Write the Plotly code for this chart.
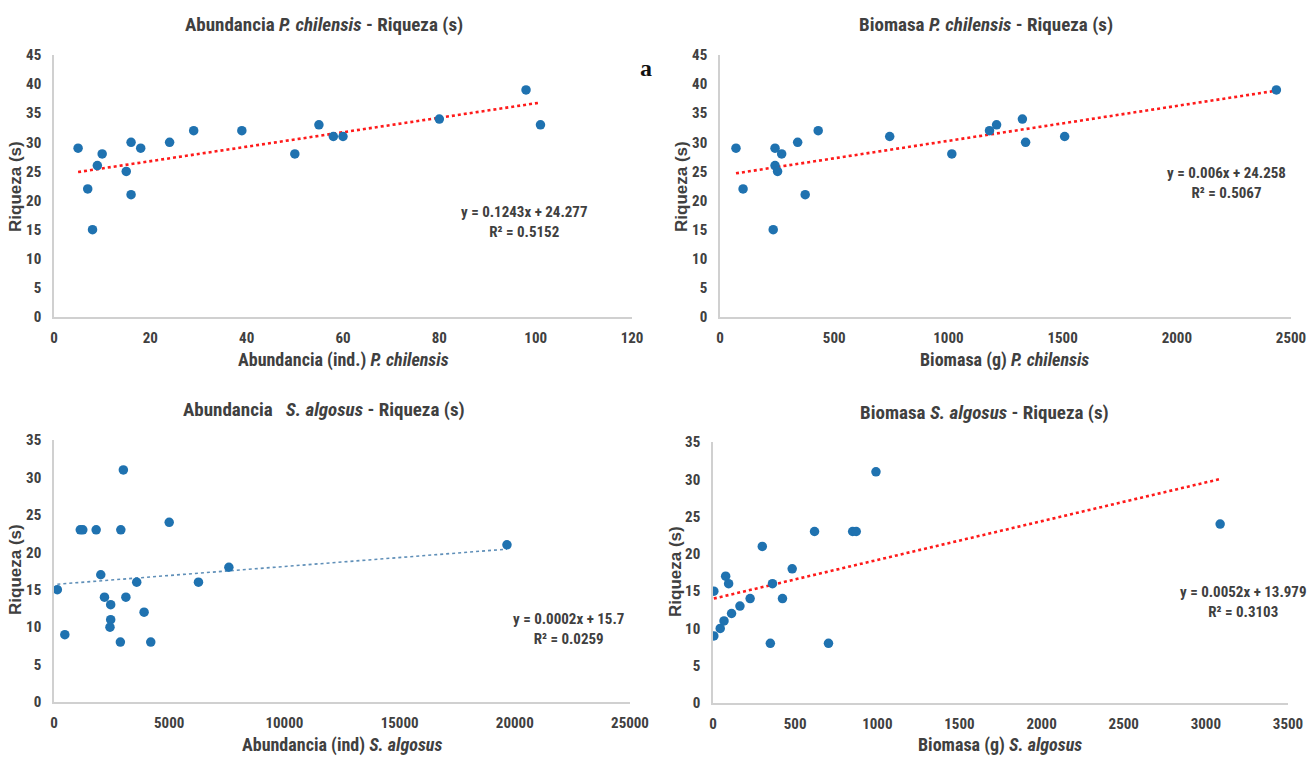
import plotly.graph_objects as go

W, H = 1309, 758

# ---- Data ----
p1_abund = [5, 7, 8, 9, 10, 15, 16, 16, 18, 24, 29, 39, 50, 55, 58, 60, 80, 98, 101]
p1_riq = [29, 22, 15, 26, 28, 25, 30, 21, 29, 30, 32, 32, 28, 33, 31, 31, 34, 39, 33]

p2_biom = [70, 101, 233, 241, 241, 252, 270, 340, 373, 430, 743, 1015, 1180, 1211, 1324, 1338, 1509, 2436]
p2_riq = [29, 22, 15, 29, 26, 25, 28, 30, 21, 32, 31, 28, 32, 33, 34, 30, 31, 39]

s_abund = [145, 470, 1140, 1250, 1830, 2030, 2190, 2460, 2460, 2430, 2900, 2880, 3010, 3120, 3590, 3910, 4200, 5000, 6270, 7590, 19660]
s_abund_riq = [15, 9, 23, 23, 23, 17, 14, 13, 11, 10, 23, 8, 31, 14, 16, 12, 8, 24, 16, 18, 21]

s_biom = [5, 5, 44, 67, 77, 95, 113, 164, 226, 300, 349, 362, 423, 482, 618, 703, 850, 872, 992, 3087]
s_biom_riq = [15, 9, 10, 11, 17, 16, 12, 13, 14, 21, 8, 16, 14, 18, 23, 8, 23, 23, 31, 24]

# trendline parameters (slope, intercept)
trend = {
    "p1": (0.1243, 24.277),
    "p2": (0.006, 24.258),
    "p3": (0.00024, 15.7),
    "p4": (0.0052, 13.979),
}
eq_text = {
    "p1": ("y = 0.1243x + 24.277", "R² = 0.5152"),
    "p2": ("y = 0.006x + 24.258", "R² = 0.5067"),
    "p3": ("y = 0.0002x + 15.7", "R² = 0.0259"),
    "p4": ("y = 0.0052x + 13.979", "R² = 0.3103"),
}
titles = {
    "p1": "Abundancia <i>P. chilensis</i> - Riqueza (s)",
    "p2": "Biomasa <i>P. chilensis</i> - Riqueza (s)",
    "p3": "Abundancia   <i>S. algosus</i> - Riqueza (s)",
    "p4": "Biomasa <i>S. algosus</i> - Riqueza (s)",
}
xtitles = {
    "p1": "Abundancia (ind.) <i>P. chilensis</i>",
    "p2": "Biomasa (g) <i>P. chilensis</i>",
    "p3": "Abundancia (ind) <i>S. algosus</i>",
    "p4": "Biomasa (g) <i>S. algosus</i>",
}
x_ranges = {"p1": (0, 120, 20), "p2": (0, 2500, 500), "p3": (0, 25000, 5000), "p4": (0, 3500, 500)}
y_ranges = {"p1": (0, 45, 5), "p2": (0, 45, 5), "p3": (0, 35, 5), "p4": (0, 35, 5)}

# ---- Layout geometry (pixels) ----
def fx(px):
    return px / W

def fy(py):
    return 1 - py / H

boxes = {  # left, right, top, bottom in pixels
    "p1": (54, 632, 55, 317),
    "p2": (720, 1291, 55, 317),
    "p3": (54, 630, 440, 702),
    "p4": (713, 1288, 442, 703),
}
title_pos = {"p1": (324, 24), "p2": (986, 25), "p3": (324, 409), "p4": (984, 412)}
xt_pos = {"p1": (343, 360), "p2": (1004, 360), "p3": (342, 745), "p4": (1000, 745)}
yt_pos = {"p1": (15, 187), "p2": (681, 187), "p3": (15, 570), "p4": (675, 572)}
eq_pos = {"p1": (524, 213), "p2": (1226, 174), "p3": (568, 620), "p4": (1243, 593)}

series = {
    "p1": (p1_abund, p1_riq),
    "p2": (p2_biom, p2_riq),
    "p3": (s_abund, s_abund_riq),
    "p4": (s_biom, s_biom_riq),
}
trend_style = {
    "p1": dict(color="#ff1a1a", width=2.6, dash="dot"),
    "p2": dict(color="#ff1a1a", width=2.6, dash="dot"),
    "p3": dict(color="#5f8fb8", width=1.6, dash="dot"),
    "p4": dict(color="#ff1a1a", width=2.6, dash="dot"),
}

NARROW = "Liberation Sans Narrow, Arial Narrow, Roboto Condensed, Liberation Sans, sans-serif"
WIDE = "Liberation Sans, Arial, sans-serif"
TXT = "#404040"

fig = go.Figure()
annotations = []
layout_axes = {}

for i, key in enumerate(["p1", "p2", "p3", "p4"], start=1):
    xs, ys = series[key]
    xa = "x" if i == 1 else f"x{i}"
    ya = "y" if i == 1 else f"y{i}"
    m, b = trend[key]
    x0, x1 = min(xs), max(xs)
    fig.add_trace(go.Scatter(x=[x0, x1], y=[m * x0 + b, m * x1 + b], mode="lines",
                             line=trend_style[key], xaxis=xa, yaxis=ya,
                             showlegend=False, hoverinfo="skip"))
    fig.add_trace(go.Scatter(x=xs, y=ys, mode="markers",
                             marker=dict(color="#1f72b0", size=9.5, line=dict(width=0)),
                             xaxis=xa, yaxis=ya, showlegend=False))
    l, r, t, btm = boxes[key]
    xr, yr = x_ranges[key], y_ranges[key]
    axis_common = dict(showline=True, linecolor="#d0d0d0", linewidth=1.5, showgrid=False,
                       zeroline=False, ticks="", automargin=False, tickformat="d",
                       tickfont=dict(family=NARROW, size=15, color=TXT, weight="bold"))
    layout_axes["xaxis" if i == 1 else f"xaxis{i}"] = dict(
        domain=[fx(l), fx(r)], range=[xr[0], xr[1]], dtick=xr[2], tick0=0,
        anchor=ya, ticklabelstandoff=6, **axis_common)
    layout_axes["yaxis" if i == 1 else f"yaxis{i}"] = dict(
        domain=[fy(btm), fy(t)], range=[yr[0], yr[1]], dtick=yr[2], tick0=0,
        anchor=xa, ticklabelstandoff=8, **axis_common)

    tx, ty = title_pos[key]
    annotations.append(dict(text=titles[key], x=fx(tx), y=fy(ty), xref="paper", yref="paper",
                            showarrow=False, xanchor="center", yanchor="middle",
                            font=dict(family=NARROW, size=19, color=TXT, weight="bold")))
    tx, ty = xt_pos[key]
    annotations.append(dict(text=xtitles[key], x=fx(tx), y=fy(ty), xref="paper", yref="paper",
                            showarrow=False, xanchor="center", yanchor="middle",
                            font=dict(family=NARROW, size=18, color=TXT, weight="bold")))
    tx, ty = yt_pos[key]
    annotations.append(dict(text="Riqueza (s)", x=fx(tx), y=fy(ty), xref="paper", yref="paper",
                            showarrow=False, xanchor="center", yanchor="middle", textangle=-90,
                            font=dict(family=WIDE, size=17, color=TXT, weight="bold")))
    tx, ty = eq_pos[key]
    annotations.append(dict(text=eq_text[key][0] + "<br>" + eq_text[key][1], x=fx(tx), y=fy(ty + 9),
                            xref="paper", yref="paper", showarrow=False, xanchor="center",
                            yanchor="middle", align="center",
                            font=dict(family=NARROW, size=15, color=TXT, weight="bold")))

annotations.append(dict(text="a", x=fx(646), y=fy(68), xref="paper", yref="paper", showarrow=False,
                        xanchor="center", yanchor="middle",
                        font=dict(family="Liberation Serif, Times New Roman, serif", size=24,
                                  color="#111111", weight="bold")))

fig.update_layout(width=W, height=H, margin=dict(l=0, r=0, t=0, b=0),
                  paper_bgcolor="white", plot_bgcolor="white", hovermode=False,
                  annotations=annotations, **layout_axes)

fig.write_html(
    "out.html",
    config={"displayModeBar": False},
    post_script="document.body.style.margin='0';document.body.style.padding='0';"
                "document.body.style.overflow='hidden';",
)
